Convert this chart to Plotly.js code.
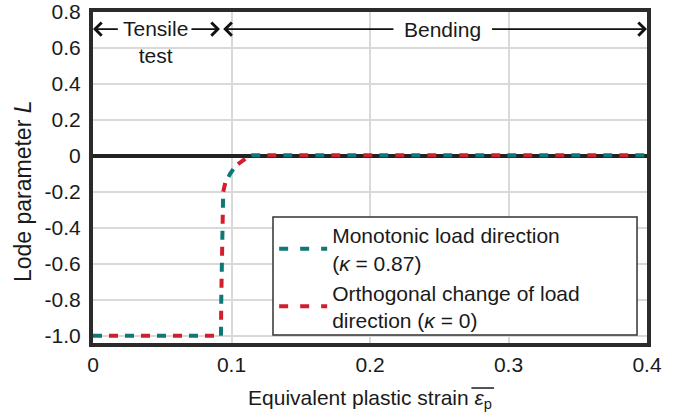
<!DOCTYPE html>
<html>
<head>
<meta charset="utf-8">
<script src="https://cdn.plot.ly/plotly-3.0.1.min.js"></script>
<style>html,body{margin:0;padding:0;background:#fff;}#chart{width:676px;height:418px;}</style>
</head>
<body>
<div id="chart"></div>
<script>
// Equivalent plastic strain (x) and Lode parameter L (y)
const strain = [0, 0.02, 0.04, 0.06, 0.08, 0.0924, 0.0926, 0.093, 0.0935, 0.094, 0.0955, 0.099, 0.103, 0.107, 0.111, 0.115, 0.2, 0.3, 0.4];
const monotonicL = [-1, -1, -1, -1, -1, -1, -0.8, -0.5, -0.3, -0.2, -0.15, -0.1, -0.055, -0.03, -0.01, 0.004, 0.004, 0.004, 0.004];
const orthogonalL = [-1, -1, -1, -1, -1, -1, -0.8, -0.5, -0.3, -0.2, -0.15, -0.1, -0.055, -0.03, -0.01, 0.004, 0.004, 0.004, 0.004];
const seriesNames = ["Monotonic load direction<br>(<i>κ</i> = 0.87)", "Orthogonal change of load<br>direction (<i>κ</i> = 0)"];
const yTickVals = [-1.0, -0.8, -0.6, -0.4, -0.2, 0, 0.2, 0.4, 0.6, 0.8];
const yTickText = ["-1.0", "-0.8", "-0.6", "-0.4", "-0.2", "0", "0.2", "0.4", "0.6", "0.8"];
const xTickVals = [0, 0.1, 0.2, 0.3, 0.4];
const xTickText = ["0", "0.1", "0.2", "0.3", "0.4"];

const teal = "#0d7878";
const red = "#d11f2e";
const FONT = "Liberation Sans, Arial, sans-serif";

const traces = [
  {x: strain, y: monotonicL, mode: "lines", line: {color: teal, width: 4, dash: "9px,23px"}, showlegend: false, hoverinfo: "skip"},
  {x: strain, y: orthogonalL, mode: "lines", line: {color: red, width: 4, dash: "0px,16px,9px,7px"}, showlegend: false, hoverinfo: "skip"},
  {x: [null], y: [null], mode: "lines", name: seriesNames[0], line: {color: teal, width: 4, dash: "9px,12px"}},
  {x: [null], y: [null], mode: "lines", name: seriesNames[1], line: {color: red, width: 4, dash: "9px,12px"}}
];

const arrowY = 0.705;
const arr = (x, ax) => ({x: x, y: arrowY, ax: ax, ay: arrowY, xref: "x", yref: "y", axref: "x", ayref: "y",
  text: "", showarrow: true, arrowhead: 4, arrowsize: 1.6, arrowwidth: 1.6, arrowcolor: "#111"});

const layout = {
  width: 676, height: 418,
  margin: {l: 93, r: 29, t: 12, b: 75},
  paper_bgcolor: "#fff", plot_bgcolor: "#fff",
  font: {family: FONT, size: 21, color: "#1a1a1a"},
  xaxis: {
    range: [0, 0.4], tickvals: xTickVals, ticktext: xTickText,
    showgrid: true, gridcolor: "#d9d9d9", gridwidth: 2,
    showline: true, linecolor: "#2b2b2b", linewidth: 4, mirror: true,
    zeroline: false, ticks: "", ticklen: 0,
    tickfont: {size: 21},
    title: {text: "Equivalent plastic strain <i>ε</i><sub>p</sub>", font: {size: 21}, standoff: 16}
  },
  yaxis: {
    range: [-1.04, 0.8], tickvals: yTickVals, ticktext: yTickText,
    showgrid: true, gridcolor: "#d9d9d9", gridwidth: 2,
    showline: true, linecolor: "#2b2b2b", linewidth: 4, mirror: true,
    zeroline: true, zerolinecolor: "#222", zerolinewidth: 4,
    ticks: "", tickfont: {size: 21}, ticklabelstandoff: 4
  },
  legend: {
    x: 0.327, y: 0.387, xanchor: "left", yanchor: "top",
    bgcolor: "rgba(0,0,0,0)", borderwidth: 0,
    font: {size: 21, family: FONT, color: "#1a1a1a"},
    tracegroupgap: 0, valign: "middle", itemwidth: 48
  },
  annotations: [
    arr(0, 0.019), arr(0.0917, 0.07), arr(0.094, 0.218), arr(0.4, 0.287),
    {x: 0.0448, y: arrowY, xref: "x", yref: "y", text: "Tensile<br>test", showarrow: false, yanchor: "top", yshift: 14, font: {size: 21}},
    {x: 0.2525, y: arrowY, xref: "x", yref: "y", text: "Bending", showarrow: false, font: {size: 21}},
    {x: 0, y: 0.459, xref: "paper", yref: "paper", xanchor: "center", yanchor: "middle", xshift: -70, text: "Lode parameter <i>L</i>", textangle: -90, showarrow: false, font: {size: 23}}
  ],
  shapes: [
    {type: "rect", xref: "paper", yref: "paper", x0: 0.3249, x1: 0.982, y0: 0.0242, y1: 0.381, layer: "above", fillcolor: "#fff", line: {color: "#333", width: 1.5}},
    {type: "line", xref: "paper", yref: "paper", x0: 0.683, x1: 0.724, y0: -0.136, y1: -0.136, line: {color: "#1a1a1a", width: 1.5}}
  ]
};

Plotly.newPlot("chart", traces, layout, {displayModeBar: false, staticPlot: true});
</script>
</body>
</html>
